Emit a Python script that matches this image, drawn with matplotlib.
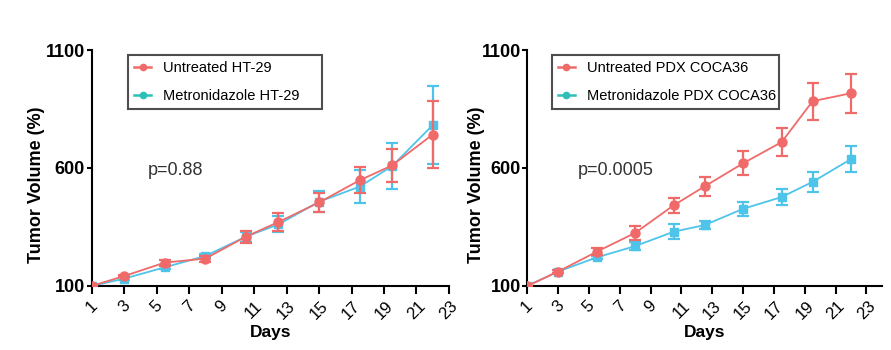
import numpy as np
import matplotlib
matplotlib.use("Agg")
import matplotlib.pyplot as plt
from matplotlib.lines import Line2D

plt.rcParams['font.family'] = ['Liberation Sans', 'DejaVu Sans']

days = [1, 3, 5.5, 8, 10.5, 12.5, 15, 17.5, 19.5, 22]

# HT-29
ht_untreated = [100, 142, 199, 216, 309, 371, 454, 548, 611, 742]
ht_untreated_err = [0, 6, 13, 13, 25, 38, 40, 55, 70, 140]
ht_metro = [100, 131, 179, 227, 309, 361, 457, 521, 608, 782]
ht_metro_err = [0, 5, 8, 10, 21, 34, 45, 70, 97, 165]

# PDX COCA36
pdx_untreated = [100, 161, 245, 325, 442, 522, 620, 710, 883, 917]
pdx_untreated_err = [0, 5, 15, 30, 32, 40, 51, 59, 78, 83]
pdx_metro = [100, 161, 221, 269, 330, 358, 427, 477, 541, 638]
pdx_metro_err = [0, 5, 8, 17, 32, 17, 29, 34, 43, 55]

red = '#F06A6A'
blue = '#4FC4EA'
teal = '#2CC0B8'

fig = plt.figure(figsize=(8.91, 3.5), dpi=100)
ax1 = fig.add_axes([0.1029, 0.183, 0.401, 0.674])
ax2 = fig.add_axes([0.5918, 0.183, 0.398, 0.674])


def panel(ax, unt, unt_err, met, met_err, labels, ptext, xmax, legbox, px, ylx):
    ax.errorbar(days, met, yerr=met_err, color=blue, marker='s', ms=6,
                lw=1.3, elinewidth=1.6, capsize=4, capthick=1.6, zorder=3)
    ax.errorbar(days, unt, yerr=unt_err, color=red, marker='o', ms=6.5,
                lw=1.3, elinewidth=1.6, capsize=4, capthick=1.6, zorder=4)
    ax.set_xlim(1, xmax)
    ax.set_ylim(100, 1100)
    ax.set_yticks([100, 600, 1100])
    ax.set_xticks(range(1, 24, 2))
    ax.spines['top'].set_visible(False)
    ax.spines['right'].set_visible(False)
    for s in ('left', 'bottom'):
        ax.spines[s].set_linewidth(1.5)
    ax.tick_params(axis='y', width=1.5, length=3.8, labelsize=13, pad=1)
    for t in ax.get_yticklabels():
        t.set_fontweight('bold')
    ax.tick_params(axis='x', width=1.5, length=5.8, labelsize=12, pad=3,
                   labelrotation=45)
    ax.set_xlabel('Days', fontsize=12.5, fontweight='bold', labelpad=2.5)
    ax.set_ylabel('Tumor Volume (%)', fontsize=13, fontweight='bold')
    ax.yaxis.set_label_coords(ylx, 0.43)
    handles = [Line2D([0], [0], color=red, marker='o', ms=4.5, lw=1.8),
               Line2D([0], [0], color=teal, marker='o', ms=4.5, lw=1.8)]
    leg = ax.legend(handles, labels, loc='upper left', bbox_to_anchor=legbox,
                    mode='expand', borderaxespad=0, fontsize=10.5, frameon=True,
                    fancybox=False, handlelength=1.2, labelspacing=0.95,
                    borderpad=0.4, handletextpad=0.8)
    leg.get_frame().set_edgecolor('#222222')
    leg.get_frame().set_linewidth(1.5)
    ax.text(px, 0.49, ptext, transform=ax.transAxes, fontsize=13,
            color='#333333', va='center')


panel(ax1, ht_untreated, ht_untreated_err, ht_metro, ht_metro_err,
      ['Untreated HT-29', 'Metronidazole HT-29'], 'p=0.88', 23,
      (0.102, 0.5, 0.544, 0.478), 0.158, -0.131)
panel(ax2, pdx_untreated, pdx_untreated_err, pdx_metro, pdx_metro_err,
      ['Untreated PDX COCA36', 'Metronidazole PDX COCA36'], 'p=0.0005', 24,
      (0.069, 0.5, 0.64, 0.478), 0.143, -0.119)

fig.savefig('out.png', dpi=100)
